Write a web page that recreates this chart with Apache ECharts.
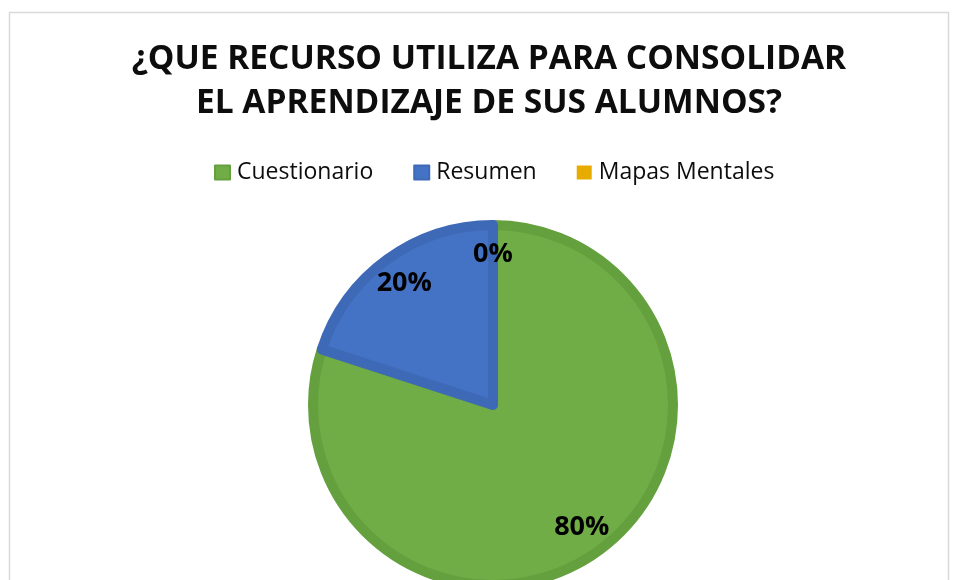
<!DOCTYPE html>
<html>
<head>
<meta charset="utf-8">
<script src="https://cdn.jsdelivr.net/npm/echarts@6/dist/echarts.min.js"></script>
<style>
  html, body { margin: 0; padding: 0; background: #fff; }
  #container { width: 954px; height: 580px; }
</style>
</head>
<body>
<div id="container"></div>
<script>
  // datos de la encuesta
  let categories = ['Cuestionario', 'Resumen', 'Mapas Mentales'];
  let values = [80, 20, 0];
  let colors = ['#70AD47', '#4472C4', '#E8AC00'];
  let borderColors = ['#64A03E', '#3E69B7', '#D49E00'];
  let titleLines = ['¿QUE RECURSO UTILIZA PARA CONSOLIDAR', 'EL APRENDIZAJE DE SUS ALUMNOS?'];

  let myChart = echarts.init(document.getElementById('container'));

  let pieData = [];
  let labelData = [];
  categories.forEach((name, i) => {
    pieData.push({
      name: name,
      value: values[i],
      itemStyle: {
        color: colors[i],
        borderColor: borderColors[i],
        borderWidth: values[i] > 0 ? 10 : 0
      }
    });
    labelData.push({name: name, value: values[i]});
  });

  let option = {
    backgroundColor: '#fff',
    animation: false,
    graphic: [{
      type: 'rect',
      shape: {x: 9.5, y: 12.5, width: 939, height: 620},
      style: {fill: 'none', stroke: '#D9D9D9', lineWidth: 1.5},
      silent: true,
      z: -10
    }],
    title: {
      text: titleLines.join('\n'),
      left: 484,
      top: 32,
      textAlign: 'center',
      textStyle: {
        fontFamily: 'Open Sans',
        fontWeight: 'bold',
        fontSize: 33.5,
        lineHeight: 44,
        color: '#0D0D0D'
      }
    },
    legend: {
      data: categories,
      top: 156,
      left: 209,
      icon: 'rect',
      itemWidth: 15,
      itemHeight: 14,
      itemGap: 40,
      textStyle: {fontFamily: 'Open Sans', fontSize: 23, color: '#0D0D0D', padding: [0, 0, 0, 2]}
    },
    color: colors,
    series: [{
      name: 'recurso',
      type: 'pie',
      center: [493, 405],
      radius: 180,
      startAngle: 90,
      clockwise: true,
      silent: true,
      label: {show: false},
      labelLine: {show: false},
      data: pieData
    }, {
      // serie transparente solo para colocar las etiquetas más afuera
      name: 'etiquetas',
      type: 'pie',
      center: [493, 405],
      radius: 296,
      startAngle: 90,
      clockwise: true,
      silent: true,
      itemStyle: {color: 'rgba(0,0,0,0)', borderWidth: 0},
      label: {
        show: true,
        position: 'inside',
        formatter: '{d}%',
        fontFamily: 'Open Sans',
        fontWeight: 'bold',
        fontSize: 27,
        color: '#000'
      },
      labelLine: {show: false},
      data: labelData
    }]
  };

  myChart.setOption(option, true);
</script>
</body>
</html>
